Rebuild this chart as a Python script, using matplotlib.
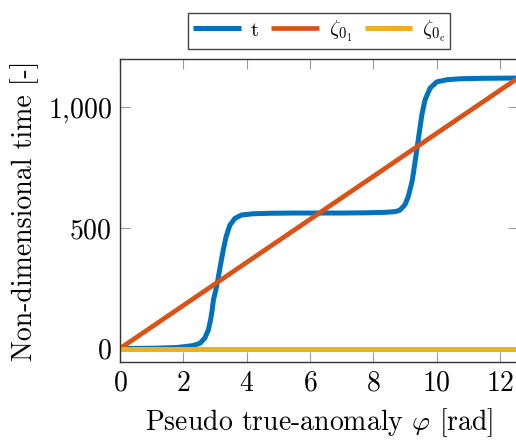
import matplotlib
matplotlib.use("Agg")
import matplotlib.pyplot as plt
from matplotlib.ticker import FuncFormatter

# ── Dados (tempo adimensional ao longo da pseudo anomalia verdadeira) ─────────
phi_t = [0.0, 1.0, 1.8, 2.3, 2.53, 2.68, 2.79, 2.86, 2.91, 2.95, 3.02, 3.09,
         3.17, 3.26, 3.35, 3.47, 3.63, 3.84, 4.21, 4.74, 5.5, 6.28, 7.0,
         7.8, 8.4, 8.7, 8.84, 9.0, 9.1, 9.18, 9.23, 9.3, 9.38, 9.46, 9.53,
         9.63, 9.79, 10.0, 10.32, 10.74, 11.5, 12.566]
t_vals = [0, 1, 4, 12, 22, 44, 77, 118, 160, 201, 240, 285,
          345, 409, 464, 512, 540, 554, 559, 561, 562, 562, 562,
          563, 565, 568, 574, 597, 630, 671, 699, 760, 832, 905, 969,
          1031, 1080, 1106, 1115, 1119, 1121, 1122]

phi_lin = [0.0, 12.566]
zeta_01 = [0, 1122]
zeta_0c = [0, 0]

AZUL    = "#0072BD"
LARANJA = "#D95319"
AMARELO = "#EDB120"

plt.rcParams["font.family"] = "serif"
plt.rcParams["font.serif"] = ["cmr10", "DejaVu Serif"]
plt.rcParams["mathtext.fontset"] = "cm"
plt.rcParams["axes.formatter.use_mathtext"] = True

fig = plt.figure(figsize=(5.16, 4.40), dpi=100)
ax = fig.add_axes([120 / 516, 78 / 440, 398 / 516, 303 / 440])

estilo = dict(solid_joinstyle="round", solid_capstyle="butt")
ax.plot(phi_t, t_vals, color=AZUL, linewidth=3.6, label=r"$\mathrm{t}$", **estilo)
ax.plot(phi_lin, zeta_01, color=LARANJA, linewidth=3.4, label=r"$\zeta_{0_1}$", **estilo)
ax.plot(phi_lin, zeta_0c, color=AMARELO, linewidth=3.6,
        label=r"$\zeta_{0_\mathrm{c}}$", **estilo)

ax.set_xlim(0, 12.566)
ax.set_ylim(-56, 1201)
ax.set_xticks([0, 2, 4, 6, 8, 10, 12])
ax.set_yticks([0, 500, 1000])
ax.yaxis.set_major_formatter(FuncFormatter(
    lambda v, _: "$" + f"{v:,.0f}".replace(",", "{,}") + "$"))
ax.xaxis.set_major_formatter(FuncFormatter(lambda v, _: f"${v:.0f}$"))

ax.tick_params(direction="in", length=7, width=0.8, color="#999999",
               top=True, right=True, labelsize=20, pad=6)
for s in ax.spines.values():
    s.set_color("#333333")
    s.set_linewidth(1.0)

ax.set_xlabel(r"Pseudo true-anomaly $\varphi$ [rad]", fontsize=20, labelpad=7)
ax.set_ylabel("Non-dimensional time [-]", fontsize=20, labelpad=6)

leg = ax.legend(loc="center", bbox_to_anchor=(0.5, 1.092), ncol=3,
                fontsize=15, frameon=True, fancybox=False, framealpha=1,
                edgecolor="#444444", handlelength=2.3, handletextpad=0.45,
                columnspacing=0.6, borderpad=0.25, borderaxespad=0)
leg.get_frame().set_linewidth(1.0)

fig.savefig("out.png", dpi=100)
